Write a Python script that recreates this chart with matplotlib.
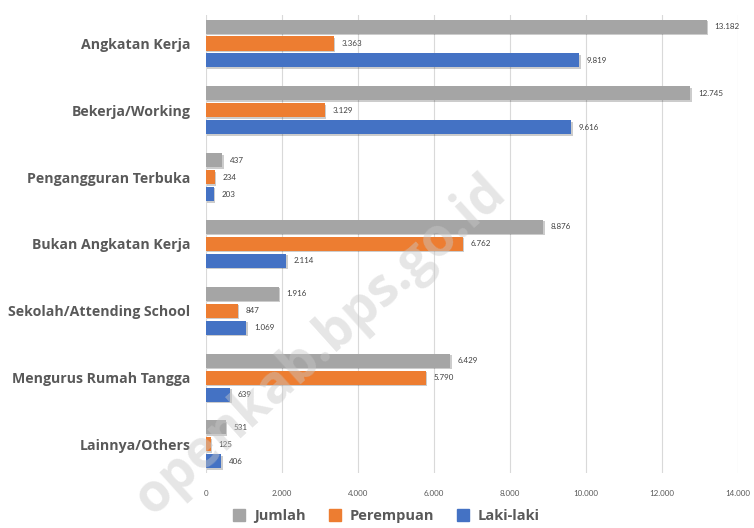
import matplotlib
matplotlib.use("Agg")
import matplotlib.pyplot as plt
import matplotlib.patheffects as pe
from matplotlib.lines import Line2D
import numpy as np

categories = ["Angkatan Kerja", "Bekerja/Working", "Pengangguran Terbuka",
              "Bukan Angkatan Kerja", "Sekolah/Attending School",
              "Mengurus Rumah Tangga", "Lainnya/Others"]
jumlah = [13182, 12745, 437, 8876, 1916, 6429, 531]
perempuan = [3363, 3129, 234, 6762, 847, 5790, 125]
laki = [9819, 9616, 203, 2114, 1069, 639, 406]
series_names = ["Jumlah", "Perempuan", "Laki-laki"]
colors = ["#a5a5a5", "#ed7d31", "#4472c4"]
xticks = [0, 2000, 4000, 6000, 8000, 10000, 12000, 14000]

def fmt(v):
    return f"{v:,}".replace(",", ".")

fig = plt.figure(figsize=(7.54, 5.28), dpi=100)
ax = fig.add_axes([0.273, 0.104, 0.706, 0.868])

y = np.arange(len(categories))
h = 0.21
off = 0.254
shadow = [pe.SimplePatchShadow(offset=(1.0, -1.0), shadow_rgbFace="#000000", alpha=0.2), pe.Normal()]
for i, (vals, name, c) in enumerate(zip([jumlah, perempuan, laki], series_names, colors)):
    pos = y + (i - 1) * off
    bars = ax.barh(pos, vals, height=h, color=c, label=name, zorder=3)
    for b in bars:
        b.set_path_effects(shadow)
    for p, v in zip(pos, vals):
        ax.text(v + 200, p, fmt(v), va="center", ha="left", fontsize=5.8,
                color="#404040", family="Lato", zorder=4)

ax.set_xlim(0, 14000)
ax.set_ylim(len(categories) - 0.57, -0.43)
ax.set_xticks(xticks)
ax.set_xticklabels([fmt(t) for t in xticks], fontsize=5.8, color="#595959", family="Lato")
ax.set_yticks(y)
ax.set_yticklabels(categories, fontsize=10.2, fontweight="bold", color="#595959", family="Open Sans")
ax.tick_params(axis="both", length=0)
ax.tick_params(axis="y", pad=11)
ax.tick_params(axis="x", pad=12)
for s in ax.spines.values():
    s.set_visible(False)
ax.grid(axis="x", color="#d9d9d9", linewidth=0.8, zorder=0)
ax.set_axisbelow(True)

handles = [Line2D([0], [0], marker="s", linestyle="", markersize=8, color=c) for c in colors]
leg = fig.legend(handles, series_names, loc="center", bbox_to_anchor=(0.507, 0.022), ncol=3,
                 frameon=False, handletextpad=0.0, columnspacing=1.0,
                 prop={"family": "Open Sans", "weight": "bold", "size": 10.5})
for t in leg.get_texts():
    t.set_color("#595959")

fig.text(0.425, 0.345, "openkab.bps.go.id", rotation=42, fontsize=38, fontweight="bold",
         color="#c8c8c8", alpha=0.45, ha="center", va="center", family="Open Sans", zorder=10)

fig.savefig("out.png", dpi=100)
